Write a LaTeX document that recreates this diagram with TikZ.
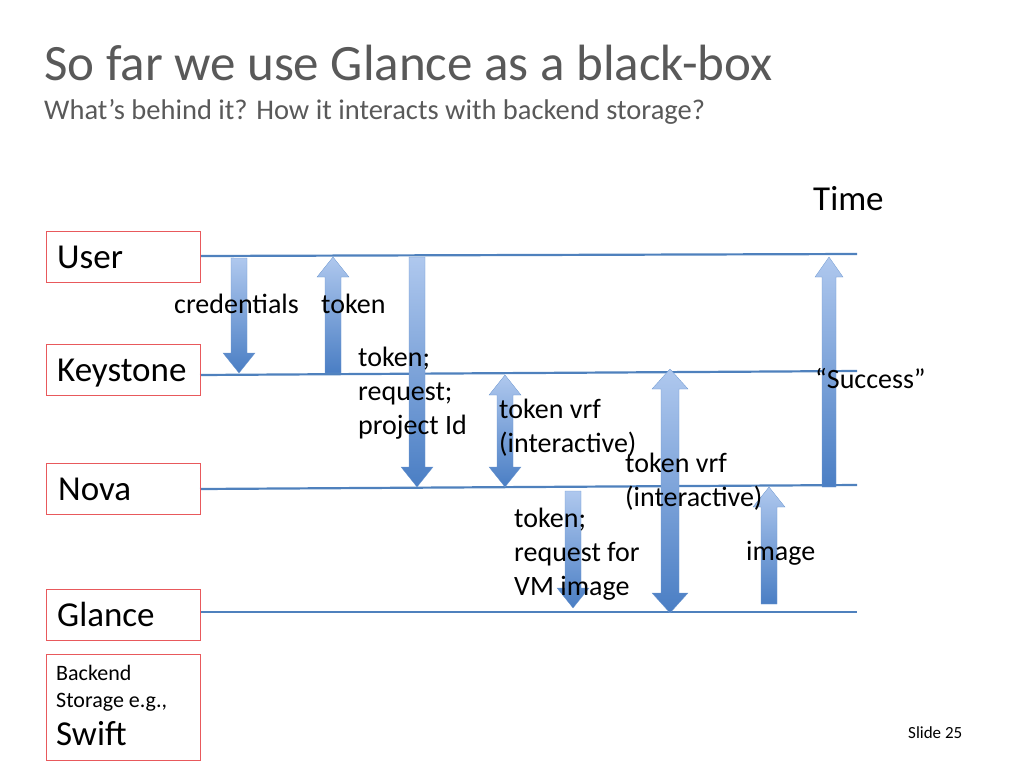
\documentclass[tikz,border=0pt]{standalone}
\usepackage{fontspec}
\setmainfont{Carlito}
\begin{document}
\begin{tikzpicture}[x=1pt,y=-1pt,
  lane/.style={draw=laneblue,line width=2.2pt},
  box/.style={draw=boxred,line width=0.8pt},
  arr/.style={top color=arrlight,bottom color=arrdark,draw=arrdark!80,line width=0.3pt},
  lbl/.style={anchor=base west,inner sep=0,font=\fontsize{28}{34}\selectfont,align=left},
  big/.style={anchor=base west,inner sep=0,font=\fontsize{35}{40}\selectfont}]
\definecolor{laneblue}{HTML}{4F81BD}
\definecolor{boxred}{HTML}{E8595C}
\definecolor{arrlight}{HTML}{AFC8EE}
\definecolor{arrdark}{HTML}{4A7EC4}
\definecolor{titlegrey}{HTML}{595959}
\useasboundingbox (0,0) rectangle (1024,768);
\newcommand\downarr[4]{\shade[arr] (#1-#4,#2) -- (#1+#4,#2) -- (#1+#4,#3-20) -- (#1+2*#4,#3-20) -- (#1,#3) -- (#1-2*#4,#3-20) -- (#1-#4,#3-20) -- cycle;}
\newcommand\uparr[4]{\shade[arr] (#1-#4,#3) -- (#1+#4,#3) -- (#1+#4,#2+20) -- (#1+2*#4,#2+20) -- (#1,#2) -- (#1-2*#4,#2+20) -- (#1-#4,#2+20) -- cycle;}
\newcommand\dblarr[4]{\shade[arr] (#1,#2) -- (#1+2*#4,#2+20) -- (#1+#4,#2+20) -- (#1+#4,#3-20) -- (#1+2*#4,#3-20) -- (#1,#3) -- (#1-2*#4,#3-20) -- (#1-#4,#3-20) -- (#1-#4,#2+20) -- (#1-2*#4,#2+20) -- cycle;}
% lanes
\draw[lane] (200,256) -- (857,254);
\draw[lane] (200,375) -- (857,371);
\draw[lane] (200,489) -- (857,485);
\draw[lane] (200,612) -- (857,612);
% boxes
\draw[box] (46,231) rectangle (200,282);
\draw[box] (46,344) rectangle (200,395);
\draw[box] (46,463) rectangle (200,514);
\draw[box] (46,589) rectangle (200,640);
\draw[box] (46,654) rectangle (200,760);
% arrows
\downarr{239}{258}{373}{8}
\uparr{333}{257}{373}{8}
\downarr{417}{257}{487}{8}
\dblarr{505}{375}{487}{8}
\downarr{573}{491}{608}{8}
\dblarr{670}{369}{613}{9}
\uparr{769}{487}{604}{8}
\uparr{829}{257}{487}{7}
% title
\node[anchor=base west,inner sep=0,text=titlegrey,font=\fontsize{51}{56}\selectfont] (title) at (44,80) {So far we use Glance as a black-box};
\node[anchor=base west,inner sep=0,text=titlegrey,font=\fontsize{28.5}{32}\selectfont] (sub) at (44,119) {What’s behind it? How it interacts with backend storage?};
\node[big] (time) at (813,210) {Time};
\node[big] (user) at (57,268) {User};
\node[big] (ks) at (57,381) {Keystone};
\node[big] (nova) at (58,500) {Nova};
\node[big] (gl) at (57,626) {Glance};
\node[anchor=base west,inner sep=0,font=\fontsize{22}{27}\selectfont,align=left] (be) at (56,707) {Backend\\Storage e.g.,};
\node[big] (swift) at (56,745) {Swift};
\node[lbl] (cred) at (174,313) {credentials};
\node[lbl] (tok) at (321,313) {token};
\node[lbl] (t1) at (358,434) {token;\\request;\\project Id};
\node[lbl] (t2) at (499,452) {token vrf\\(interactive)};
\node[lbl] (t3) at (625,506) {token vrf\\(interactive)};
\node[lbl] (t4) at (514,595) {token;\\request for\\VM image};
\node[lbl] (img) at (746,560) {image};
\node[lbl] (succ) at (815,388) {“Success”};
\node[anchor=base west,inner sep=0,font=\fontsize{17}{20}\selectfont] (slide) at (908,738) {Slide 25};
\end{tikzpicture}
\end{document}
